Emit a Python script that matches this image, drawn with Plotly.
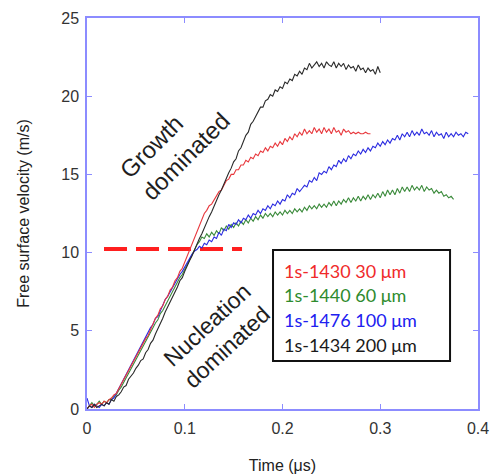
import numpy as np
import plotly.graph_objects as go

# Sampling step of the velocimetry records (µs)
dt = 0.0025

# Free surface velocity records (m/s), one value per time step
v_1430_30um = [
    0.0, 0.2, 0.3, 0.1, 0.3, 0.4, 0.3, 0.5, 0.4, 0.6, 0.7, 0.9, 1.0, 1.3, 1.5, 1.9, 2.1, 2.5,
    2.8, 3.0, 3.4, 3.6, 3.9, 4.2, 4.5, 4.7, 5.1, 5.4, 5.8, 6.0, 6.4, 6.6, 7.0, 7.2, 7.6, 7.8,
    8.2, 8.4, 8.8, 9.0, 9.4, 9.7, 10.2, 10.6, 11.0, 11.4, 11.8, 12.2, 12.5, 12.7, 13.0, 13.1,
    13.4, 13.7, 13.9, 14.0, 14.3, 14.6, 14.7, 15.0, 15.0, 15.3, 15.3, 15.6, 15.6, 15.9, 15.8,
    16.1, 16.0, 16.3, 16.2, 16.5, 16.4, 16.7, 16.5, 16.8, 16.7, 17.0, 16.8, 17.1, 16.9, 17.3,
    17.1, 17.4, 17.2, 17.6, 17.4, 17.7, 17.5, 17.9, 17.6, 17.8, 17.6, 18.0, 17.7, 17.9, 17.6,
    18.0, 17.7, 17.9, 17.6, 18.0, 17.7, 17.8, 17.5, 17.9, 17.7, 17.8, 17.6, 17.7, 17.6, 17.7,
    17.6, 17.6, 17.7, 17.6, 17.6,
]
v_1440_60um = [
    0.0, 0.2, 0.4, 0.2, 0.3, 0.5, 0.3, 0.5, 0.4, 0.6, 0.6, 0.8, 0.9, 1.2, 1.4, 1.7, 2.0, 2.3,
    2.6, 2.8, 3.1, 3.4, 3.7, 4.0, 4.3, 4.6, 4.9, 5.2, 5.5, 5.7, 6.1, 6.3, 6.6, 6.9, 7.2, 7.5,
    7.8, 8.1, 8.4, 8.6, 8.9, 9.3, 9.6, 9.9, 10.2, 10.5, 10.7, 11.0, 10.9, 11.2, 11.0, 11.3,
    11.1, 11.4, 11.2, 11.6, 11.4, 11.7, 11.5, 11.8, 11.6, 11.9, 11.7, 12.0, 11.8, 12.1, 11.9,
    12.2, 12.0, 12.3, 12.1, 12.4, 12.2, 12.5, 12.3, 12.5, 12.3, 12.6, 12.4, 12.6, 12.4, 12.7,
    12.5, 12.7, 12.5, 12.8, 12.6, 12.8, 12.6, 12.9, 12.7, 13.0, 12.8, 13.0, 12.8, 13.1, 12.9,
    13.1, 12.9, 13.2, 13.0, 13.3, 13.0, 13.3, 13.1, 13.4, 13.2, 13.5, 13.2, 13.5, 13.3, 13.6,
    13.3, 13.6, 13.4, 13.7, 13.4, 13.7, 13.5, 13.8, 13.5, 13.9, 13.6, 14.0, 13.7, 14.0, 13.7,
    14.1, 13.8, 14.2, 13.9, 14.2, 13.9, 14.3, 14.0, 14.2, 14.0, 14.3, 13.9, 14.2, 14.0, 14.1,
    13.8, 14.0, 13.8, 13.9, 13.6, 13.7, 13.5, 13.6, 13.4,
]
v_1476_100um = [
    0.7, 0.2, 0.1, 0.3, 0.2, 0.1, 0.3, 0.2, 0.4, 0.3, 0.6, 0.7, 1.0, 1.3, 1.5, 1.9, 2.2, 2.4,
    2.8, 3.1, 3.4, 3.7, 3.9, 4.3, 4.6, 4.9, 5.2, 5.4, 5.8, 5.9, 6.3, 6.6, 7.0, 7.2, 7.5, 7.8,
    8.0, 8.4, 8.6, 8.8, 9.1, 9.4, 9.7, 9.9, 10.1, 10.2, 10.4, 10.3, 10.6, 10.5, 10.8, 10.7,
    11.0, 10.9, 11.3, 11.1, 11.5, 11.4, 11.8, 11.6, 11.9, 11.8, 12.1, 11.9, 12.2, 12.1, 12.4,
    12.2, 12.5, 12.4, 12.7, 12.5, 12.8, 12.7, 13.0, 12.8, 13.1, 13.0, 13.3, 13.1, 13.4, 13.3,
    13.7, 13.5, 13.8, 13.7, 14.1, 13.9, 14.1, 14.3, 14.2, 14.6, 14.5, 14.8, 14.6, 15.1, 15.0,
    15.2, 15.1, 15.5, 15.3, 15.6, 15.5, 15.9, 15.7, 16.0, 15.8, 16.2, 16.0, 16.3, 16.2, 16.5,
    16.3, 16.6, 16.4, 16.7, 16.5, 16.8, 16.7, 17.0, 16.8, 17.1, 16.9, 17.2, 17.0, 17.3, 17.2,
    17.5, 17.2, 17.6, 17.4, 17.7, 17.4, 17.8, 17.5, 17.7, 17.5, 17.9, 17.6, 17.7, 17.5, 17.8,
    17.4, 17.7, 17.5, 17.6, 17.3, 17.7, 17.4, 17.6, 17.4, 17.7, 17.5, 17.6, 17.4, 17.7, 17.6,
]
v_1434_200um = [
    0.0, 0.2, 0.1, 0.3, 0.1, 0.2, 0.3, 0.2, 0.4, 0.3, 0.6, 0.5, 0.8, 0.9, 1.1, 1.4, 1.5, 1.9,
    2.1, 2.3, 2.6, 2.8, 3.1, 3.2, 3.6, 3.8, 4.2, 4.4, 4.8, 5.1, 5.5, 5.8, 6.2, 6.5, 6.9, 7.1,
    7.5, 7.8, 8.2, 8.4, 8.8, 9.2, 9.5, 9.8, 10.2, 10.6, 10.9, 11.2, 11.6, 11.9, 12.3, 12.6,
    13.0, 13.3, 13.7, 14.0, 14.4, 14.7, 15.1, 15.4, 15.8, 16.0, 16.5, 16.7, 17.1, 17.5, 17.7,
    18.2, 18.4, 18.7, 18.9, 19.3, 19.3, 19.7, 19.8, 20.1, 20.0, 20.4, 20.3, 20.6, 20.5, 20.9,
    20.8, 21.1, 21.0, 21.4, 21.3, 21.6, 21.4, 21.8, 21.7, 22.1, 21.8, 22.0, 22.2, 21.9, 22.1,
    21.8, 22.2, 22.0, 21.9, 22.2, 21.8, 22.1, 21.9, 22.1, 21.7, 22.0, 21.8, 21.9, 21.6, 22.0,
    21.7, 21.8, 21.5, 21.8, 21.6, 21.7, 21.4, 21.9, 21.5,
]

series_names = ["1s-1430 30 μm", "1s-1440 60 μm", "1s-1476 100 μm", "1s-1434 200 μm"]
series_values = [v_1430_30um, v_1440_60um, v_1476_100um, v_1434_200um]
series_colors = ["#e8383d", "#3a8a3a", "#2b2be0", "#2a2a2a"]
key_colors = ["#f02a2a", "#2e8b2e", "#2020f0", "#1a1a1a"]

# Transition velocity separating the two regimes (m/s)
transition_velocity = 10.23
transition_span = [0.0174, 0.1586]

x_ticks = [0, 0.1, 0.2, 0.3, 0.4]
x_tick_text = ["0", "0.1", "0.2", "0.3", "0.4"]
y_ticks = [0, 5, 10, 15, 20, 25]

axis_color = "#8c8cff"
sans = "Liberation Sans, Arial, sans-serif"
label_font = dict(family=sans, size=16, color="#333333")
title_font = dict(family=sans, size=16, color="#222222")

fig = go.Figure()

# draw order: green, blue, red, black on top
for idx in [1, 2, 0, 3]:
    vals = series_values[idx]
    t = np.arange(len(vals)) * dt
    fig.add_trace(go.Scatter(
        x=t, y=vals, mode="lines", name=series_names[idx],
        line=dict(color=series_colors[idx], width=1.1),
        showlegend=False,
    ))

# dashed transition marker
fig.add_shape(
    type="line", xref="x", yref="y",
    x0=transition_span[0], x1=transition_span[1],
    y0=transition_velocity, y1=transition_velocity,
    line=dict(color="#ff1f1f", width=4, dash="23px,9px"),
    layer="below",
)

# regime labels
fig.add_annotation(x=0.090, y=16.85, xref="x", yref="y", text="Growth<br>dominated",
                   showarrow=False, textangle=-45, align="left",
                   font=dict(family=sans, size=24, color="#1e1e1e"))
fig.add_annotation(x=0.133, y=4.67, xref="x", yref="y", text="Nucleation<br>dominated",
                   showarrow=False, textangle=-43, align="left",
                   font=dict(family=sans, size=23, color="#1e1e1e"))

# key box
fig.add_shape(type="rect", xref="x", yref="y", x0=0.1903, x1=0.3714, y0=3.07, y1=10.17,
              line=dict(color="#111111", width=2), fillcolor="white", layer="above")
key_y = [8.85, 7.3, 5.7, 4.1]
for name, color, yy in zip(series_names, key_colors, key_y):
    fig.add_annotation(x=0.1995, y=yy, xref="x", yref="y", text=name, showarrow=False,
                       xanchor="left", yanchor="middle",
                       font=dict(family="Lato, Open Sans, sans-serif", size=18, color=color))

fig.update_layout(
    width=495, height=476,
    margin=dict(l=87, r=17, t=18, b=67, autoexpand=False),
    plot_bgcolor="white", paper_bgcolor="white",
    showlegend=False,
    xaxis=dict(
        range=[0, 0.4], tickvals=x_ticks, ticktext=x_tick_text,
        ticks="inside", ticklen=5, tickcolor=axis_color, tickwidth=1.2,
        showline=True, linecolor=axis_color, linewidth=1.5, mirror="ticks",
        showgrid=False, zeroline=False, tickfont=label_font, ticklabelstandoff=4,
        automargin=False,
        title=dict(text="Time (μs)", standoff=24, font=title_font),
    ),
    yaxis=dict(
        range=[0, 25], tickvals=y_ticks,
        ticks="inside", ticklen=5, tickcolor=axis_color, tickwidth=1.2,
        showline=True, linecolor=axis_color, linewidth=1.5, mirror="ticks",
        showgrid=False, zeroline=False, tickfont=label_font, ticklabelstandoff=3,
        automargin=False,
        title=dict(text="Free surface velocity (m/s)", standoff=28, font=title_font),
    ),
)

fig.write_html("out.html")
